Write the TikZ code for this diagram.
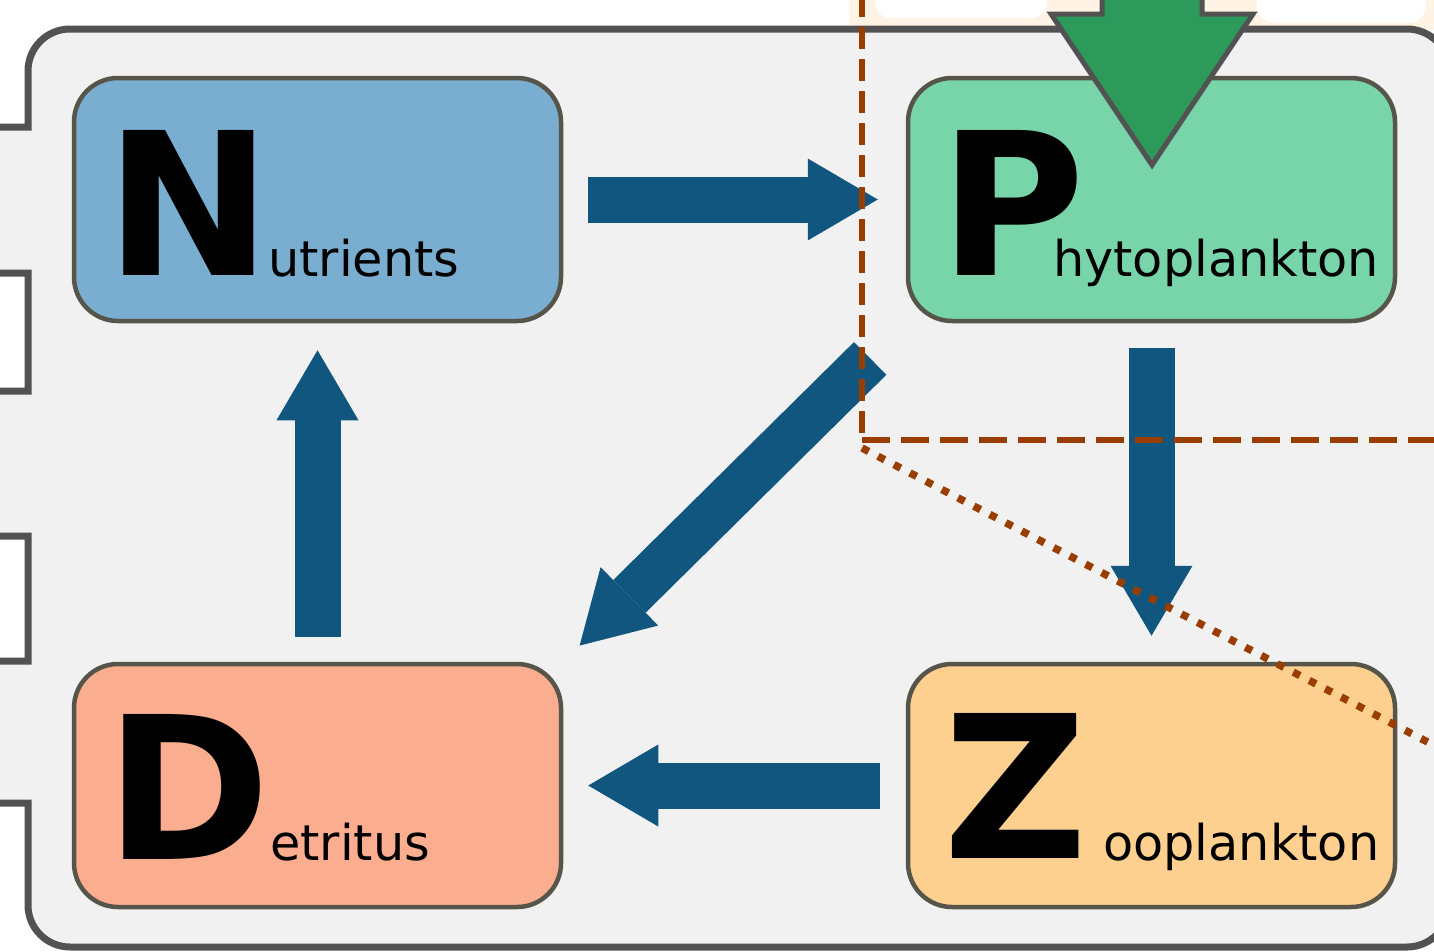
\documentclass[tikz,border=0pt]{standalone}
\usepackage{fontspec}
\setmainfont{DejaVu Sans}
\usetikzlibrary{arrows.meta}
\definecolor{bgc}{HTML}{F1F1F1}
\definecolor{framec}{HTML}{525252}
\definecolor{boxline}{HTML}{57544A}
\definecolor{ncol}{HTML}{79AED0}
\definecolor{pcol}{HTML}{78D5A9}
\definecolor{dcol}{HTML}{FBAD8F}
\definecolor{zcol}{HTML}{FDD08F}
\definecolor{arrc}{HTML}{10567E}
\definecolor{greenc}{HTML}{2B9A5A}
\definecolor{brownc}{HTML}{993E00}
\definecolor{creamc}{HTML}{FEF3E4}
\newcommand\BigLet{\fontsize{199}{199}\selectfont\bfseries}
\newcommand\SmallWord{\fontsize{49.3}{50}\selectfont}
\begin{document}
\begin{tikzpicture}[x=1pt,y=-1pt,
  box/.style={draw=boxline, line width=4.5pt, rounded corners=44pt,
    minimum width=487pt, minimum height=243pt, inner sep=0pt},
  letter/.style={anchor=base west, inner sep=0pt, font=\BigLet},
  word/.style={anchor=base west, inner sep=0pt, font=\SmallWord},
  flow/.style={draw=arrc, line width=46pt,
    -{Triangle[width=82pt,length=70pt,line width=0pt]}},
  brownline/.style={draw=brownc, line width=6.5pt}
]
\useasboundingbox (0,0) rectangle (1434,951);
\fill[white] (0,0) rectangle (1434,951);
% cream strip at top
\fill[creamc] (850,-5) rectangle (1440,30);
\fill[white, rounded corners=16pt] (875,-30) rectangle (1047,18);
\fill[white, rounded corners=18pt] (1257,-30) rectangle (1426,23);
% outer container
\draw[fill=bgc, draw=framec, line width=7pt, line join=miter]
  (-10,127) -- (28,127) -- (28,71)
  .. controls (28,47.8) and (46.8,29) .. (70,29)
  -- (1407,29) .. controls (1430.2,29) and (1449,47.8) .. (1449,71)
  -- (1449,905) .. controls (1449,928.2) and (1430.2,947) .. (1407,947)
  -- (70,947) .. controls (46.8,947) and (28,928.2) .. (28,905)
  -- (28,803) -- (-10,803) -- (-10,661) -- (28,661) -- (28,536)
  -- (-10,536) -- (-10,391) -- (28,391) -- (28,273) -- (-10,273) -- cycle;
% boxes
\node[box, fill=ncol] (N) at (317.5,199.5) {};
\node[box, fill=pcol] (P) at (1151.5,199.5) {};
\node[box, fill=dcol] (D) at (317.5,785.5) {};
\node[box, fill=zcol] (Z) at (1151.5,785.5) {};
% labels
\node[letter] (Nl) at (105,275) {N};
\node[word] (Nw) at (268,276) {utrients};
\node[letter] (Pl) at (939,275) {P};
\node[word] (Pw) at (1053,276) {hytoplankton};
\node[letter] (Dl) at (105,859) {D};
\node[word] (Dw) at (270,860) {etritus};
\node[letter] (Zl) at (943,858) {Z};
\node[word] (Zw) at (1103,860) {ooplankton};
% flows
\draw[flow, shorten <=25pt, shorten >=28pt] (N.east) -- (P.west);
\draw[flow, shorten <=25pt, shorten >=26pt] (P.south) -- (Z.north);
\draw[flow, shorten <=26pt, shorten >=25pt] (Z.west) -- (D.east);
\draw[flow, shorten <=25pt, shorten >=27pt] (D.north) -- (N.south);
\draw[flow, shorten <=50pt, shorten >=23pt] (P.south west) -- (D.north east);
% green input arrow
\coordinate (gtip) at (1152,165);
\draw[fill=greenc, draw=framec, line width=5pt, line join=miter]
  ([shift={(-50,-185)}]gtip) -- ([shift={(-50,-151)}]gtip)
  -- ([shift={(-101,-151)}]gtip) -- (gtip)
  -- ([shift={(101,-151)}]gtip) -- ([shift={(50,-151)}]gtip)
  -- ([shift={(50,-185)}]gtip);
% brown boundaries
\coordinate (bc) at (862,440);
\coordinate (btop) at (862,-5);
\coordinate (bright) at (1440,440);
\coordinate (dstart) at (862,448);
\coordinate (dend) at (1470,764);
\draw[brownline, dash pattern=on 22pt off 10pt] (btop) -- (bc);
\draw[brownline, dash pattern=on 28pt off 11pt] (bc) -- (bright);
\draw[brownline, line width=7.5pt, dash pattern=on 7.5pt off 10.5pt] (dstart) -- (dend);
\end{tikzpicture}
\end{document}
